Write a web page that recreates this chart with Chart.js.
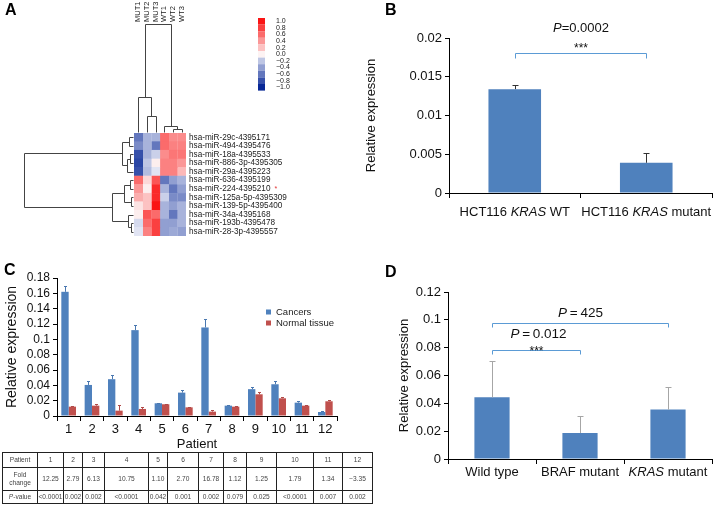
<!DOCTYPE html>
<html>
<head>
<meta charset="utf-8">
<script src="https://cdn.jsdelivr.net/npm/chart.js@4.4.1/dist/chart.umd.min.js"></script>
<style>
  body { margin: 0; background: #fff; font-family: "Liberation Sans", Arial, sans-serif; }
  #page { position: relative; width: 714px; height: 516px; overflow: hidden; }
  .box { position: absolute; }
  .tag { position: absolute; font-weight: bold; font-size: 16px; line-height: 16px; color: #000; }
  #tbl { position: absolute; left: 2px; top: 452px; width: 370px; border-collapse: collapse; table-layout: fixed; font-size: 6.6px; color: #444; }
  #tbl td { border: 1px solid #222; text-align: center; padding: 0; line-height: 8px; overflow: hidden; white-space: nowrap; }
</style>
</head>
<body>
<div id="page">
  <div class="box" style="left:0;top:0;width:360px;height:260px"><canvas id="heat"></canvas></div>
  <div class="box" style="left:360px;top:0;width:354px;height:260px"><canvas id="cellLine"></canvas></div>
  <div class="box" style="left:0;top:260px;width:360px;height:192px"><canvas id="patients"></canvas></div>
  <div class="box" style="left:360px;top:260px;width:354px;height:256px"><canvas id="mutation"></canvas></div>
  <table id="tbl"></table>
  <div class="tag" style="left:5px;top:2px">A</div>
  <div class="tag" style="left:385px;top:2px">B</div>
  <div class="tag" style="left:4px;top:262px">C</div>
  <div class="tag" style="left:385px;top:264px">D</div>
</div>
<script>
// ---- A: heatmap ----
const mirnas = ['hsa-miR-29c-4395171', 'hsa-miR-494-4395476', 'hsa-miR-18a-4395533', 'hsa-miR-886-3p-4395305',
  'hsa-miR-29a-4395223', 'hsa-miR-636-4395199', 'hsa-miR-224-4395210', 'hsa-miR-125a-5p-4395309',
  'hsa-miR-139-5p-4395400', 'hsa-miR-34a-4395168', 'hsa-miR-193b-4395478', 'hsa-miR-28-3p-4395557']
const samples = ['MUT1', 'MUT2', 'MUT3', 'WT1', 'WT2', 'WT3']
const mut1 = [-0.6, -0.5, -0.8, -0.85, -0.8, 0.6, 0.4, 0.3, 0.05, 0.0, -0.1, -0.05]
const mut2 = [-0.3, -0.3, -0.3, -0.2, -0.25, 0.1, 0.0, 0.2, 0.2, 0.7, 0.6, 0.5]
const mut3 = [-0.3, -0.6, -0.15, 0.0, -0.05, 0.7, 0.9, 0.9, 1.0, 0.6, 0.8, 0.8]
const wt1 = [0.6, 0.6, 0.45, 0.5, 0.5, -0.6, -0.3, -0.15, -0.3, -0.3, -0.4, -0.4]
const wt2 = [0.45, 0.5, 0.55, 0.5, 0.5, -0.4, -0.6, -0.5, -0.4, -0.6, -0.4, -0.35]
const wt3 = [0.45, 0.5, 0.55, 0.4, 0.25, -0.3, -0.4, -0.5, -0.3, -0.3, -0.3, -0.4]
const keyValues = [1.0, 0.8, 0.6, 0.4, 0.2, 0.0, -0.2, -0.4, -0.6, -0.8, -1.0]
// dendrogram merges: [nodeA, nodeB, height]; new node id = leaves + merge index
const rowMerges = [[0, 1, 4], [2, 3, 3], [13, 4, 6], [12, 14, 11], [5, 6, 3], [7, 8, 2], [16, 17, 9],
  [10, 11, 2], [9, 19, 5], [18, 20, 21], [15, 21, 109]]
const colMerges = [[1, 2, 16], [0, 6, 35], [4, 5, 3], [3, 8, 6], [7, 9, 108]]

// ---- B ----
const bCategories = ['HCT116 <i>KRAS</i> WT', 'HCT116 <i>KRAS</i> mutant']
const bValues = [0.0134, 0.0039]
const bSd = [0.0005, 0.0013]

// ---- C ----
const patientIds = ['1', '2', '3', '4', '5', '6', '7', '8', '9', '10', '11', '12']
const cancers = [0.162, 0.0405, 0.048, 0.112, 0.0166, 0.0305, 0.1155, 0.0135, 0.035, 0.0414, 0.0174, 0.0052]
const cancersSd = [0.007, 0.0055, 0.0055, 0.0065, 0.001, 0.0035, 0.0105, 0.001, 0.003, 0.0046, 0.0016, 0.0018]
const normal = [0.0122, 0.0135, 0.007, 0.0092, 0.0153, 0.0113, 0.0057, 0.0122, 0.0283, 0.0231, 0.0135, 0.0192]
const normalSd = [0.001, 0.0025, 0.0074, 0.002, 0.001, 0.001, 0.0017, 0.001, 0.0027, 0.0013, 0.001, 0.0018]
const foldChange = ['12.25', '2.79', '6.13', '10.75', '1.10', '2.70', '16.78', '1.12', '1.25', '1.79', '1.34', '\u22123.35']
const pValues = ['<0.0001', '0.002', '0.002', '<0.0001', '0.042', '0.001', '0.002', '0.079', '0.025', '<0.0001', '0.007', '0.002']

// ---- D ----
const dCategories = ['Wild type', 'BRAF mutant', '<i>KRAS</i> mutant']
const dValues = [0.0443, 0.0187, 0.0355]
const dSd = [0.026, 0.0125, 0.016]

const FONT = '"Liberation Sans", Arial, sans-serif'
const BLUE = '#4f81bd'
const RED = '#c0504d'
Chart.defaults.font.family = FONT
Chart.defaults.color = '#111'
Chart.defaults.animation = false

function heatColor(v) {
  const lo = v >= 0 ? [252, 238, 238] : [236, 238, 248]
  const hi = v >= 0 ? [250, 20, 20] : [8, 40, 150]
  const t = Math.min(1, Math.abs(v))
  return 'rgb(' + lo.map((c, i) => Math.round(c + (hi[i] - c) * t)).join(',') + ')'
}

function drawRich(ctx, str, x, y, size, align) {
  const parts = str.split(/(<i>.*?<\/i>)/).filter(Boolean)
    .map(p => p.startsWith('<i>') ? { t: p.slice(3, -4), i: true } : { t: p, i: false })
  const font = it => (it ? 'italic ' : '') + size + 'px ' + FONT
  let w = 0
  parts.forEach(p => { ctx.font = font(p.i); p.w = ctx.measureText(p.t).width; w += p.w })
  let cx = align === 'left' ? x : x - w / 2
  ctx.textAlign = 'left'
  ctx.textBaseline = 'middle'
  parts.forEach(p => { ctx.font = font(p.i); ctx.fillText(p.t, cx, y); cx += p.w })
}

function drawTree(ctx, merges, leafPos, toXY) {
  const nodes = leafPos.map(p => ({ p: p, h: 0 }))
  ctx.beginPath()
  merges.forEach(m => {
    const a = nodes[m[0]], b = nodes[m[1]], h = m[2]
    let s = toXY(a.p, a.h), e = toXY(a.p, h)
    ctx.moveTo(s[0], s[1]); ctx.lineTo(e[0], e[1])
    e = toXY(b.p, h); ctx.lineTo(e[0], e[1])
    s = toXY(b.p, b.h); ctx.lineTo(s[0], s[1])
    nodes.push({ p: (a.p + b.p) / 2, h: h })
  })
  ctx.stroke()
}

const heatDecor = {
  id: 'heatDecor',
  afterDraw(chart) {
    const ctx = chart.ctx, area = chart.chartArea, xs = chart.scales.x, ys = chart.scales.y
    const crisp = v => Math.round(v) + 0.5
    ctx.save()
    ctx.strokeStyle = '#444'
    ctx.lineWidth = 1
    // row dendrogram (left)
    drawTree(ctx, rowMerges, mirnas.map((m, i) => ys.getPixelForValue(i)),
      (p, h) => [crisp(area.left - 1 - h), crisp(p)])
    // column dendrogram (top)
    drawTree(ctx, colMerges, samples.map((s, i) => xs.getPixelForValue(i + 0.5)),
      (p, h) => [crisp(p), crisp(area.top - 1 - h)])
    // row labels
    ctx.fillStyle = '#222'
    mirnas.forEach((m, i) => {
      const y = ys.getPixelForValue(i)
      drawRich(ctx, m, area.right + 3, y, 8.2, 'left')
      if (i === 6) {
        const w = ctx.measureText(m).width
        ctx.fillStyle = '#e03030'
        ctx.font = '7px ' + FONT
        ctx.fillText('*', area.right + 3 + w + 4, y)
        ctx.fillStyle = '#222'
      }
    })
    // column labels (rotated)
    ctx.font = '7.5px ' + FONT
    samples.forEach((s, i) => {
      ctx.save()
      ctx.translate(xs.getPixelForValue(i + 0.5), 22)
      ctx.rotate(-Math.PI / 2)
      ctx.textAlign = 'left'
      ctx.textBaseline = 'middle'
      ctx.fillText(s, 0, 0)
      ctx.restore()
    })
    // colour key
    keyValues.forEach((v, i) => {
      const y = 18 + i * 6.6
      ctx.fillStyle = v === 0 ? '#fdf3f3' : heatColor(v)
      ctx.fillRect(258, y, 7, 6.6)
      ctx.fillStyle = '#222'
      ctx.font = '7px ' + FONT
      ctx.textAlign = 'left'
      ctx.textBaseline = 'middle'
      ctx.fillText(v < 0 ? '\u2212' + Math.abs(v).toFixed(1) : v.toFixed(1), 276, y + 3.3)
    })
    ctx.restore()
  }
}

new Chart(document.getElementById('heat'), {
  type: 'bar',
  data: {
    labels: mirnas,
    datasets: [mut1, mut2, mut3, wt1, wt2, wt3].map((col, c) => ({
      label: samples[c],
      data: col.map(() => 1),
      backgroundColor: col.map(heatColor),
      borderColor: col.map(heatColor),
      borderWidth: 0.4,
      barPercentage: 1,
      categoryPercentage: 1
    }))
  },
  options: {
    indexAxis: 'y',
    responsive: true,
    maintainAspectRatio: false,
    events: [],
    layout: { padding: { left: 134, right: 174, top: 133, bottom: 24 } },
    plugins: { legend: { display: false }, tooltip: { enabled: false } },
    scales: {
      x: { display: false, stacked: true, min: 0, max: samples.length },
      y: { display: false, stacked: true }
    }
  },
  plugins: [heatDecor]
})

// ---- shared bar chart bits ----
function valueAxis(max, step, tickSize, titleSize, width) {
  return {
    min: 0,
    max: max,
    ticks: { stepSize: step, autoSkip: false, font: { size: tickSize }, color: '#111', padding: 3,
      callback: v => String(+v.toFixed(4)) },
    grid: { drawOnChartArea: false, color: '#000', tickLength: 4 },
    border: { color: '#000' },
    title: { display: true, text: 'Relative expression', font: { size: titleSize }, color: '#111',
      padding: { top: 4, bottom: 0 } },
    afterFit: s => { s.width = width }
  }
}

function categoryAxis(height, extra) {
  return Object.assign({
    ticks: { display: false },
    grid: { drawOnChartArea: false, color: '#000', tickLength: 5, offset: true },
    border: { color: '#000' },
    afterFit: s => { s.height = height }
  }, extra || {})
}

function errorBars(sds, colors, cap) {
  return {
    id: 'errorBars',
    afterDatasetsDraw(chart) {
      const ctx = chart.ctx, y = chart.scales.y
      ctx.save()
      ctx.lineWidth = 1
      sds.forEach((sd, d) => {
        ctx.strokeStyle = colors[d]
        chart.getDatasetMeta(d).data.forEach((bar, i) => {
          const x = Math.round(bar.x) + 0.5
          const top = Math.round(y.getPixelForValue(chart.data.datasets[d].data[i] + sd[i])) + 0.5
          ctx.beginPath()
          ctx.moveTo(x, bar.y)
          ctx.lineTo(x, top)
          ctx.moveTo(x - cap, top)
          ctx.lineTo(x + cap, top)
          ctx.stroke()
        })
      })
      ctx.restore()
    }
  }
}

function richLabels(labels, offset, size) {
  return {
    id: 'richLabels',
    afterDraw(chart) {
      const ctx = chart.ctx, x = chart.scales.x
      ctx.save()
      ctx.fillStyle = '#111'
      labels.forEach((l, i) => drawRich(ctx, l, x.getPixelForValue(i), chart.chartArea.bottom + offset, size))
      ctx.restore()
    }
  }
}

function brackets(list) {
  return {
    id: 'brackets',
    afterDraw(chart) {
      const ctx = chart.ctx, x = chart.scales.x, y = chart.scales.y
      ctx.save()
      list.forEach(b => {
        const x0 = Math.round(x.getPixelForValue(b.from)) + 0.5
        const x1 = Math.round(x.getPixelForValue(b.to)) + 0.5
        const yy = Math.round(y.getPixelForValue(b.level)) + 0.5
        ctx.strokeStyle = '#5b9bd5'
        ctx.lineWidth = 1
        ctx.beginPath()
        ctx.moveTo(x0, yy + b.drop)
        ctx.lineTo(x0, yy)
        ctx.lineTo(x1, yy)
        ctx.lineTo(x1, yy + b.drop)
        ctx.stroke()
        ctx.fillStyle = '#111'
        const mid = (x0 + x1) / 2
        if (b.starsDy !== undefined) drawRich(ctx, '***', mid + (b.starsDx || 0), yy + b.starsDy, 12)
        drawRich(ctx, b.text, mid + (b.textDx || 0), yy + b.textDy, b.size)
      })
      ctx.restore()
    }
  }
}

const strip = s => s.replace(/<\/?i>/g, '')

// ---- B ----
new Chart(document.getElementById('cellLine'), {
  type: 'bar',
  data: {
    labels: bCategories.map(strip),
    datasets: [{ label: 'Relative expression', data: bValues, backgroundColor: BLUE,
      barPercentage: 0.4, categoryPercentage: 1 }]
  },
  options: {
    responsive: true,
    maintainAspectRatio: false,
    events: [],
    layout: { padding: { left: 0, right: 2, top: 38, bottom: 0 } },
    plugins: { legend: { display: false }, tooltip: { enabled: false } },
    scales: { x: categoryAxis(67), y: valueAxis(0.02, 0.005, 13, 13, 89) }
  },
  plugins: [errorBars([bSd], ['#333'], 3), richLabels(bCategories, 19, 13),
    brackets([{ from: 0, to: 1, level: 0.0181, drop: 5, text: '<i>P</i>=0.0002', textDy: -25, size: 13, starsDy: -5 }])]
})

// ---- C ----
const cLegend = {
  id: 'cLegend',
  afterDraw(chart) {
    const ctx = chart.ctx
    ctx.save()
    chart.data.datasets.forEach((ds, i) => {
      const y = 52 + i * 11
      ctx.fillStyle = ds.backgroundColor
      ctx.fillRect(266, y - 2.5, 5, 5)
      ctx.fillStyle = '#222'
      ctx.font = '9.5px ' + FONT
      ctx.textAlign = 'left'
      ctx.textBaseline = 'middle'
      ctx.fillText(ds.label, 276, y)
    })
    ctx.restore()
  }
}

new Chart(document.getElementById('patients'), {
  type: 'bar',
  data: {
    labels: patientIds,
    datasets: [
      { label: 'Cancers', data: cancers, backgroundColor: BLUE, barPercentage: 1, categoryPercentage: 0.63 },
      { label: 'Normal tissue', data: normal, backgroundColor: RED, barPercentage: 1, categoryPercentage: 0.63 }
    ]
  },
  options: {
    responsive: true,
    maintainAspectRatio: false,
    events: [],
    layout: { padding: { left: 0, right: 23, top: 18, bottom: 0 } },
    plugins: { legend: { display: false }, tooltip: { enabled: false } },
    scales: {
      x: categoryAxis(36, {
        ticks: { display: true, font: { size: 13 }, color: '#111', padding: 1, maxRotation: 0 },
        title: { display: true, text: 'Patient', font: { size: 13 }, color: '#111', padding: { top: 0, bottom: 0 } }
      }),
      y: valueAxis(0.18, 0.02, 12, 14, 57)
    }
  },
  plugins: [errorBars([cancersSd, normalSd], ['#4a78b0', '#b04a48'], 1.5), cLegend]
})

// table under C
const colW = [35, 26, 19, 22, 44, 19, 31, 25, 23, 30, 37, 29, 30]
const tbl = document.getElementById('tbl')
tbl.innerHTML = '<colgroup>' + colW.map(w => '<col style="width:' + w + 'px">').join('') + '</colgroup>'
const rows = [
  { head: 'Patient', cells: patientIds, h: 15 },
  { head: 'Fold<br>change', cells: foldChange, h: 23 },
  { head: '<i>P</i>-value', cells: pValues, h: 13 }
]
const tbody = document.createElement('tbody')
rows.forEach(r => {
  const tr = document.createElement('tr')
  tr.style.height = r.h + 'px'
  const th = document.createElement('td')
  th.innerHTML = r.head
  tr.appendChild(th)
  r.cells.forEach(c => {
    const td = document.createElement('td')
    td.textContent = c
    tr.appendChild(td)
  })
  tbody.appendChild(tr)
})
tbl.appendChild(tbody)

// ---- D ----
new Chart(document.getElementById('mutation'), {
  type: 'bar',
  data: {
    labels: dCategories.map(strip),
    datasets: [{ label: 'Relative expression', data: dValues, backgroundColor: BLUE,
      barPercentage: 0.4, categoryPercentage: 1 }]
  },
  options: {
    responsive: true,
    maintainAspectRatio: false,
    events: [],
    layout: { padding: { left: 33, right: 2, top: 32, bottom: 0 } },
    plugins: { legend: { display: false }, tooltip: { enabled: false } },
    scales: { x: categoryAxis(57), y: valueAxis(0.12, 0.02, 13, 13, 55) }
  },
  plugins: [errorBars([dSd], ['#a6a6a6'], 3), richLabels(dCategories, 13, 13),
    brackets([
      { from: 0, to: 2, level: 0.0977, drop: 4, text: '<i>P</i>\u2009=\u2009425', textDy: -10, size: 13.5 },
      { from: 0, to: 1, level: 0.0783, drop: 4, text: '<i>P</i>\u2009=\u20090.012', textDy: -16, textDx: 2, size: 13.5, starsDy: 1 }
    ])]
})
</script>
</body>
</html>
